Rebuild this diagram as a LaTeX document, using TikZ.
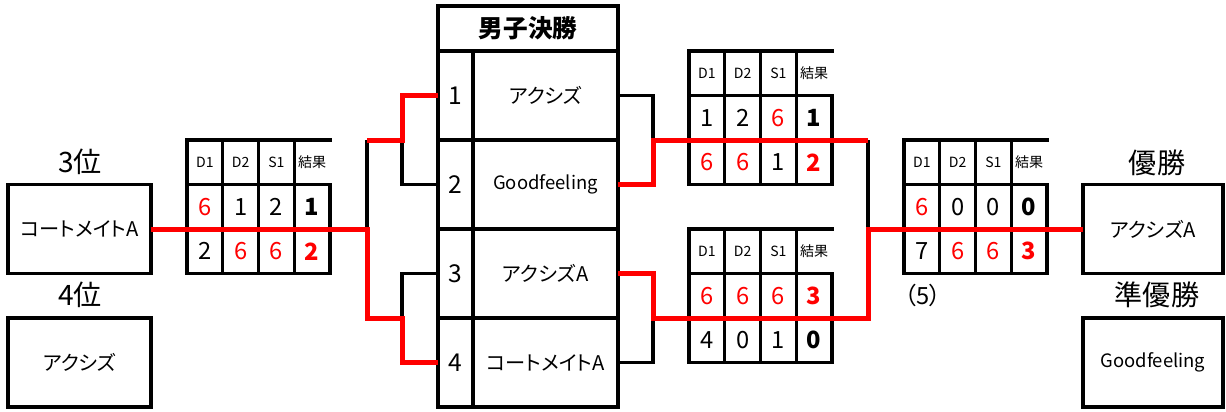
\documentclass[tikz,border=0pt]{standalone}
\usepackage{fontspec}
\setmainfont{Noto Sans CJK JP}[RawFeature=+palt]
\newcommand\redv[1]{\textcolor{red}{#1}}
\newcommand\boldv[1]{\textbf{#1}}
\newcommand\redbv[1]{\textcolor{red}{\textbf{#1}}}

\begin{document}
\begin{tikzpicture}[x=0.02cm, y=-0.02cm,
    rule/.style={line width=0.065cm, line cap=rect},
    lose/.style={line width=0.065cm},
    win/.style={line width=0.1cm, red},
    box/.style={draw, line width=0.065cm, minimum width=2.86cm, minimum height=1.78cm, inner sep=0pt, outer sep=0pt, font=\fontsize{11.5}{13}\selectfont},
    cell/.style={draw, line width=0.065cm, minimum height=1.78cm, inner sep=0pt, outer sep=0pt, font=\fontsize{11.5}{13}\selectfont},
    hd/.style={font=\fontsize{8}{9}\selectfont},
    num/.style={font=\fontsize{13.5}{15}\selectfont},
    place/.style={font=\fontsize{16}{18}\selectfont}]
    \useasboundingbox (0,0) rectangle (1226,412);

    % left side: 3rd / 4th place
    \node[place] (l3) at (80,162) {3位};
    \node[box] (third) at (79.5,229) {コートメイトA};
    \node[place] (l4) at (80,295) {4位};
    \node[box] (fourth) at (79.5,362.5) {アクシズ};

    % right side: winner / runner-up
    \node[place] (l1) at (1157,163) {優勝};
    \node[box, minimum width=2.8cm] (champ) at (1153,229) {アクシズA};
    \node[place] (l2) at (1157,295) {準優勝};
    \node[box, minimum width=2.8cm, font=\fontsize{10.5}{12}\selectfont] (second) at (1153,362.5) {Goodfeeling};

    % main draw
    \node[cell, minimum width=3.6cm, minimum height=0.9cm, font=\bfseries\fontsize{14}{16}\selectfont] (mh) at (528,28.5) {男子決勝};
    \foreach \e [count=\i] in {アクシズ, {\fontsize{10.5}{12}\selectfont Goodfeeling}, アクシズA, コートメイトA} {
        \node[cell, minimum width=0.7cm, font=\fontsize{14}{16}\selectfont] (n\i) at (455.5,6.5+89*\i) {\i};
        \node[cell, minimum width=2.9cm] (e\i) at (545.5,6.5+89*\i) {\e};
    }

    % score tables
    \foreach \t/\xo/\yo in {L/187/140, A/689/51, B/689/229, C/904/140} {
        \draw[rule] (\xo,\yo) -- ++(143,0);
        \draw[rule] (\xo,\yo+44.5) rectangle ++(143,89);
        \draw[rule] (\xo,\yo+89) -- ++(143,0);
        \foreach \c in {0,1,2,3}
            \draw[rule] (\xo+35.75*\c,\yo) -- ++(0,133.5);
        \foreach \h [count=\c from 0] in {D1,D2,S1,結果}
            \node[hd] (\t h\c) at (\xo+17.875+35.75*\c,\yo+22.25) {\h};
    }
    \foreach \r/\xo/\ym/\vals in {
        L1/187/206.75/{\redv{6},1,2,\boldv{1}},
        L2/187/251.25/{2,\redv{6},\redv{6},\redbv{2}},
        A1/689/117.75/{1,2,\redv{6},\boldv{1}},
        A2/689/162.25/{\redv{6},\redv{6},1,\redbv{2}},
        B1/689/295.75/{\redv{6},\redv{6},\redv{6},\redbv{3}},
        B2/689/340.25/{4,0,1,\boldv{0}},
        C1/904/206.75/{\redv{6},0,0,\boldv{0}},
        C2/904/251.25/{7,\redv{6},\redv{6},\redbv{3}}}
        \foreach \v [count=\c from 0] in \vals
            \node[num] (\r c\c) at (\xo+17.875+35.75*\c,\ym) {\v};
    \node[num] (game) at (923,295) {（5）};

    % bracket junctions
    \coordinate (lj1) at (402,140);
    \coordinate (lj2) at (402,318);
    \coordinate (ljt) at (367,140);
    \coordinate (ljm) at (367,229);
    \coordinate (ljb) at (367,318);
    \coordinate (rj1) at (653,140);
    \coordinate (rj2) at (653,318);
    \coordinate (rjt) at (868,140);
    \coordinate (rjm) at (868,229);
    \coordinate (rjb) at (868,318);

    % losing lines
    \draw[lose] (n2.west) -| (lj1);
    \draw[lose] (n3.west) -| (lj2);
    \draw[lose] (ljt) -- (ljm);
    \draw[lose] (e1.east) -| (rj1);
    \draw[lose] (e4.east) -| (rj2);
    \draw[lose] (rjt) -- (rjm);
    % winning lines
    \draw[win] (third.east) -- (ljm) -- (ljb) -- (lj2) |- (n4.west);
    \draw[win] (n1.west) -| (lj1) -- (ljt);
    \draw[win] (e2.east) -| (rj1) -- (rjt);
    \draw[win] (champ.west) -- (rjm) -- (rjb) -- (rj2) |- (e3.east);
\end{tikzpicture}
\end{document}
